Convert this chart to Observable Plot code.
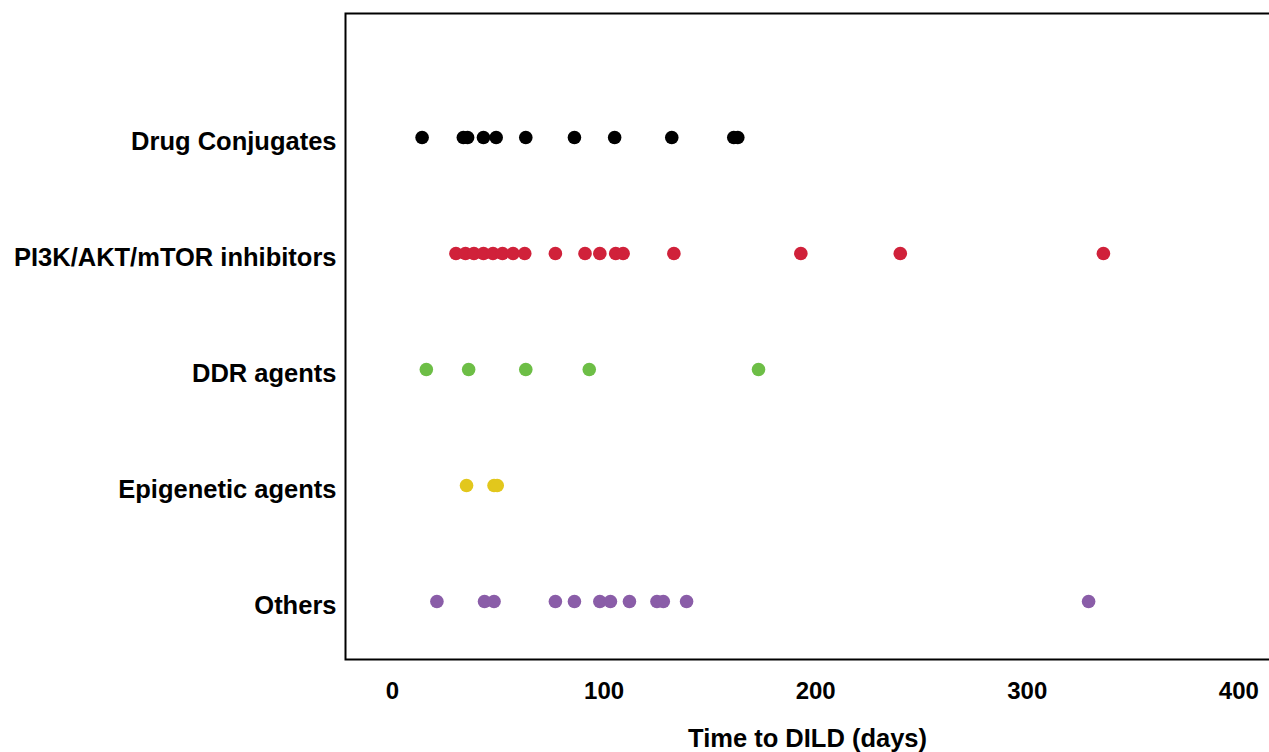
<!DOCTYPE html>
<html>
<head>
<meta charset="utf-8">
<script src="https://cdn.jsdelivr.net/npm/d3@7"></script>
<script src="https://cdn.jsdelivr.net/npm/@observablehq/plot@0.6"></script>
<style>
  html, body { margin: 0; padding: 0; background: #fff; overflow: hidden; }
  #wrap { width: 1269px; height: 752px; overflow: hidden; }
</style>
</head>
<body>
<div id="wrap"></div>
<script>
const categories = ["Drug Conjugates", "PI3K/AKT/mTOR inhibitors", "DDR agents", "Epigenetic agents", "Others"];
const colors = ["#000000", "#d0213a", "#6dbe46", "#e2c71c", "#8a5da8"];

const drugConjugates = [14, 33.5, 35.5, 43, 49, 63, 86, 105, 132, 161.3, 163.2];
const pi3kInhibitors = [30, 34.5, 38.5, 43, 47.5, 52, 57, 62.5, 77, 91, 98, 105.5, 109, 133, 193, 240, 336];
const ddrAgents = [16, 36, 63, 93, 173];
const epigeneticAgents = [35, 48, 49.5];
const others = [21, 43.5, 48, 77, 86, 98, 103, 112, 125, 128, 139, 329];

const xTicks = [0, 100, 200, 300, 400];

const series = [drugConjugates, pi3kInhibitors, ddrAgents, epigeneticAgents, others];
const data = series.flatMap((vals, i) => vals.map(v => ({category: categories[i], days: v})));

const chart = Plot.plot({
  width: 1269,
  height: 752,
  marginLeft: 345,
  marginRight: 0,
  marginTop: 13,
  marginBottom: 93,
  style: {fontFamily: "Arial, 'Liberation Sans', sans-serif", background: "#fff", color: "#000"},
  x: {domain: [-22.2, 414.5], ticks: xTicks},
  y: {type: "point", domain: categories, range: [137, 601], padding: 0},
  color: {domain: categories, range: colors},
  marks: [
    Plot.frame({stroke: "#000", strokeWidth: 2, insetRight: -6}),
    Plot.axisY({tickSize: 0, tickPadding: 9, dy: 4, fontSize: 25.5, fontWeight: "bold", label: null}),
    Plot.axisX({ticks: xTicks, tickSize: 0, tickPadding: 22, fontSize: 24, fontWeight: "bold", label: null}),
    Plot.text(["Time to DILD (days)"], {frameAnchor: "bottom", dy: 79, lineAnchor: "middle", fontSize: 25.5, fontWeight: "bold", fill: "#000"}),
    Plot.dot(data, {x: "days", y: "category", fill: "category", r: 6.8, stroke: null})
  ]
});
document.getElementById("wrap").appendChild(chart);
</script>
</body>
</html>
